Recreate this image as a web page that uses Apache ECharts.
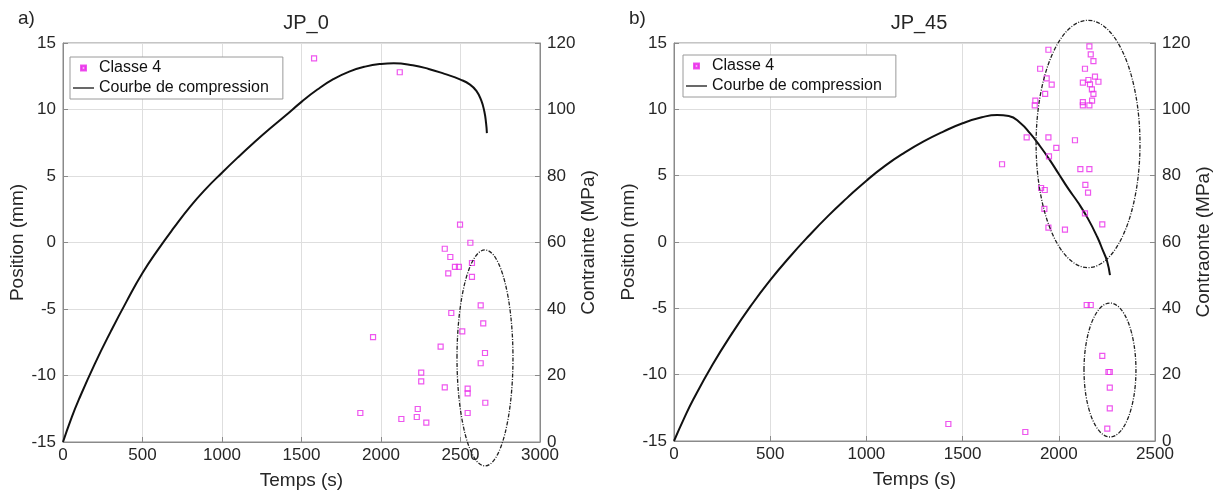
<!DOCTYPE html>
<html><head><meta charset="utf-8">
<script src="https://cdn.jsdelivr.net/npm/echarts@6/dist/echarts.min.js"></script>
<style>html,body{margin:0;padding:0;background:#fff}#c{width:1222px;height:497px}</style>
</head><body><div id="c"></div><script>
// ---------- data ----------
const panelLabels = ['a)', 'b)'];
const panelTitles = ['JP_0', 'JP_45'];
const xAxisName = 'Temps (s)';
const yLeftName = 'Position (mm)';
const yRightNames = ['Contrainte (MPa)', 'Contraonte (MPa)'];
const legendNames = ['Classe 4', 'Courbe de compression'];
// axis ranges [min, max, interval]
const xRangeA = [0, 3000, 500];
const xRangeB = [0, 2500, 500];
const yPosRange = [-15, 15, 5];
const yMPaRange = [0, 120, 20];

// JP_0 : Classe 4 points [t (s), position (mm)]
const classe4_JP0 = [
  [1579, 13.85], [2118, 12.80], [2497, 1.35], [2562, -0.02], [2401, -0.47],
  [2436, -1.09], [2572, -1.54], [2465, -1.84], [2490, -1.84], [2423, -2.32],
  [2572, -2.59], [2627, -4.72], [2442, -5.30], [2643, -6.08], [2511, -6.68],
  [1950, -7.11], [2375, -7.83], [2654, -8.31], [2627, -9.08], [2253, -9.79],
  [2253, -10.44], [2401, -10.89], [2545, -10.99], [2545, -11.34], [2656, -12.05],
  [1870, -12.82], [2231, -12.52], [2128, -13.27], [2225, -13.12], [2285, -13.55],
  [2545, -12.82]
];
// JP_0 : compression curve [t (s), stress (MPa)]
const courbe_JP0 = [
  [0, 0], [50, 6.8], [100, 12.8], [200, 23.5], [300, 33.2], [400, 42.3], [500, 50.8],
  [600, 58.0], [700, 64.6], [800, 70.8], [900, 76.2], [1000, 81.0], [1100, 85.6],
  [1200, 90.0], [1300, 94.2], [1400, 98.2], [1500, 102.3], [1600, 106.0], [1700, 109.1],
  [1800, 111.4], [1900, 112.9], [2000, 113.7], [2080, 113.9], [2200, 113.3], [2300, 112.2],
  [2400, 110.7], [2500, 109.0], [2560, 107.5], [2600, 105.6], [2630, 102.8],
  [2650, 99.4], [2661, 95.8], [2666, 92.9]
];
// JP_45 : Classe 4 points
const classe4_JP45 = [
  [1946, 14.49], [2159, 14.75], [2166, 14.15], [2180, 13.64], [1903, 13.06],
  [2136, 13.06], [1937, 12.34], [2188, 12.46], [1963, 11.86], [2125, 12.01],
  [2154, 12.21], [2162, 11.89], [2206, 12.08], [2172, 11.51], [1929, 11.16],
  [2180, 11.16], [1878, 10.65], [1875, 10.30], [2125, 10.55], [2125, 10.30],
  [2159, 10.30], [2173, 10.65], [1833, 7.89], [1946, 7.89], [2084, 7.67],
  [1987, 7.09], [1949, 6.46], [1705, 5.86], [2112, 5.50], [2159, 5.50],
  [2138, 4.30], [2152, 3.72], [1908, 4.07], [1927, 3.92], [1925, 2.49],
  [2136, 2.16], [2226, 1.33], [1946, 1.08], [2032, 0.93], [2145, -4.75],
  [2166, -4.75], [2226, -8.59], [2258, -9.80], [2265, -9.80], [2265, -10.98],
  [2265, -12.54], [2252, -14.07], [1426, -13.72], [1826, -14.32]
];
// JP_45 : compression curve
const courbe_JP45 = [
  [0, 0], [50, 6.5], [100, 12.5], [200, 23.0], [300, 32.3], [400, 40.8], [500, 48.5],
  [600, 55.4], [700, 61.8], [800, 67.8], [900, 73.3], [1000, 78.5], [1100, 83.1],
  [1200, 87.0], [1300, 90.4], [1400, 93.3], [1500, 95.8], [1600, 97.6], [1680, 98.3],
  [1740, 98.0], [1800, 95.9], [1850, 92.8], [1900, 89.1], [1950, 85.0], [2000, 80.5],
  [2050, 76.0], [2100, 71.9], [2150, 67.2], [2200, 61.5], [2230, 57.3], [2250, 54.4],
  [2266, 50.0]
];
// annotation ellipses [centre t, centre position, radius t, radius position]
const ellipse_JP0 = [2654, -8.68, 176, 8.12];
const ellipse_JP45_up = [2152, 7.39, 270, 9.32];
const ellipse_JP45_low = [2266, -9.65, 135, 5.05];

// ---------- chart ----------
const FONT = "'Liberation Sans', Arial, sans-serif";
const TXT = '#262626';
const AX = '#8a8a8a';
const GRIDC = '#dedede';
const MAG = '#ea2cea';
const chart = echarts.init(document.getElementById('c'), null, {renderer: 'canvas'});
const plain = v => String(v);

function xAxis(gi, r) {
  return {
    type: 'value', gridIndex: gi, min: r[0], max: r[1], interval: r[2],
    name: xAxisName, nameLocation: 'middle', nameGap: 29,
    nameTextStyle: {fontFamily: FONT, fontSize: 19, color: TXT},
    axisLine: {show: true, onZero: false, lineStyle: {color: AX}},
    axisTick: {show: true, inside: true, length: 5, lineStyle: {color: AX}},
    axisLabel: {fontFamily: FONT, fontSize: 17, color: TXT, margin: 5, formatter: plain},
    splitLine: {show: true, lineStyle: {color: GRIDC}}
  };
}
function yLeft(gi, gap) {
  return {
    type: 'value', gridIndex: gi, position: 'left', min: yPosRange[0], max: yPosRange[1], interval: yPosRange[2],
    name: yLeftName, nameLocation: 'middle', nameRotate: 90, nameGap: gap,
    nameTextStyle: {fontFamily: FONT, fontSize: 19, color: TXT},
    axisLine: {show: true, onZero: false, lineStyle: {color: AX}},
    axisTick: {show: true, inside: true, length: 5, lineStyle: {color: AX}},
    axisLabel: {fontFamily: FONT, fontSize: 17, color: TXT, margin: 7, formatter: plain},
    splitLine: {show: true, lineStyle: {color: GRIDC}}
  };
}
function yRight(gi, name, gap) {
  return {
    type: 'value', gridIndex: gi, position: 'right', min: yMPaRange[0], max: yMPaRange[1], interval: yMPaRange[2],
    name: name, nameLocation: 'middle', nameRotate: 90, nameGap: gap,
    nameTextStyle: {fontFamily: FONT, fontSize: 19, color: TXT, verticalAlign: 'top'},
    axisLine: {show: true, onZero: false, lineStyle: {color: AX}},
    axisTick: {show: true, inside: true, length: 5, lineStyle: {color: AX}},
    axisLabel: {fontFamily: FONT, fontSize: 17, color: TXT, margin: 7, formatter: plain},
    splitLine: {show: false}
  };
}
const sqIcon = 'path://M0,0h10v10h-10zM1.8,1.8v6.4h6.4v-6.4z';
const lineIcon = 'path://M0,0h30v1.8h-30z';
function legend(left, top, ids) {
  return {
    left: left, top: top, orient: 'vertical',
    backgroundColor: '#fff', borderColor: '#9a9a9a', borderWidth: 1,
    padding: [2, 14, 2, 3], itemGap: 2, itemWidth: 21, itemHeight: 5,
    textStyle: {fontFamily: FONT, fontSize: 16, color: '#111', lineHeight: 18},
    data: [
      {name: ids[0], icon: sqIcon, itemStyle: {color: MAG}},
      {name: ids[1], icon: lineIcon, itemStyle: {color: '#111'}}
    ]
  };
}
function scatter(name, xi, yi, data) {
  return {
    type: 'scatter', name: name, xAxisIndex: xi, yAxisIndex: yi, data: data,
    symbol: 'rect', symbolSize: 5, z: 5,
    itemStyle: {color: 'rgba(0,0,0,0)', borderColor: MAG, borderWidth: 1.2}
  };
}
function curve(name, xi, yi, data) {
  return {
    type: 'line', name: name, xAxisIndex: xi, yAxisIndex: yi, data: data,
    showSymbol: false, symbol: 'none', smooth: 0.5, z: 4,
    lineStyle: {color: '#111', width: 2}, itemStyle: {color: '#111'}
  };
}
// second set of legend names so each legend stays with its panel
const nA = legendNames.map(n => n);
const nB = legendNames.map(n => n + '\u200b');

chart.setOption({
  animation: false,
  backgroundColor: '#fff',
  title: [
    {text: panelLabels[0], left: 13, top: 4, textStyle: {fontFamily: FONT, fontSize: 19, fontWeight: 'normal', color: TXT}},
    {text: panelTitles[0], left: 301, top: 8, textAlign: 'center', textStyle: {fontFamily: FONT, fontSize: 20, fontWeight: 'normal', color: TXT}},
    {text: panelLabels[1], left: 624, top: 4, textStyle: {fontFamily: FONT, fontSize: 19, fontWeight: 'normal', color: TXT}},
    {text: panelTitles[1], left: 914, top: 8, textAlign: 'center', textStyle: {fontFamily: FONT, fontSize: 20, fontWeight: 'normal', color: TXT}}
  ],
  legend: [legend(70, 57, nA), legend(683, 55, nB)],
  grid: [
    {left: 63, top: 43, width: 477, height: 399, show: true, borderColor: AX, borderWidth: 1, backgroundColor: 'transparent'},
    {left: 674, top: 43, width: 481, height: 398, show: true, borderColor: AX, borderWidth: 1, backgroundColor: 'transparent'}
  ],
  xAxis: [xAxis(0, xRangeA), xAxis(1, xRangeB)],
  yAxis: [yLeft(0, 33), yRight(0, yRightNames[0], 30), yLeft(1, 30), yRight(1, yRightNames[1], 37)],
  series: [
    scatter(nA[0], 0, 0, classe4_JP0),
    curve(nA[1], 0, 1, courbe_JP0),
    scatter(nB[0], 1, 2, classe4_JP45),
    curve(nB[1], 1, 3, courbe_JP45)
  ]
});

function ellipseGraphic(seriesIndex, e) {
  const c = chart.convertToPixel({seriesIndex: seriesIndex}, [e[0], e[1]]);
  const px = chart.convertToPixel({seriesIndex: seriesIndex}, [e[0] + e[2], e[1]]);
  const py = chart.convertToPixel({seriesIndex: seriesIndex}, [e[0], e[1] + e[3]]);
  return {
    type: 'ellipse', z: 100, silent: true,
    shape: {cx: c[0], cy: c[1], rx: Math.abs(px[0] - c[0]), ry: Math.abs(c[1] - py[1])},
    style: {fill: null, stroke: '#222', lineWidth: 1.3, lineDash: [4, 1.5, 1, 1.5]}
  };
}
chart.setOption({
  graphic: [
    ellipseGraphic(0, ellipse_JP0),
    ellipseGraphic(2, ellipse_JP45_up),
    ellipseGraphic(2, ellipse_JP45_low)
  ]
});
</script></body></html>
